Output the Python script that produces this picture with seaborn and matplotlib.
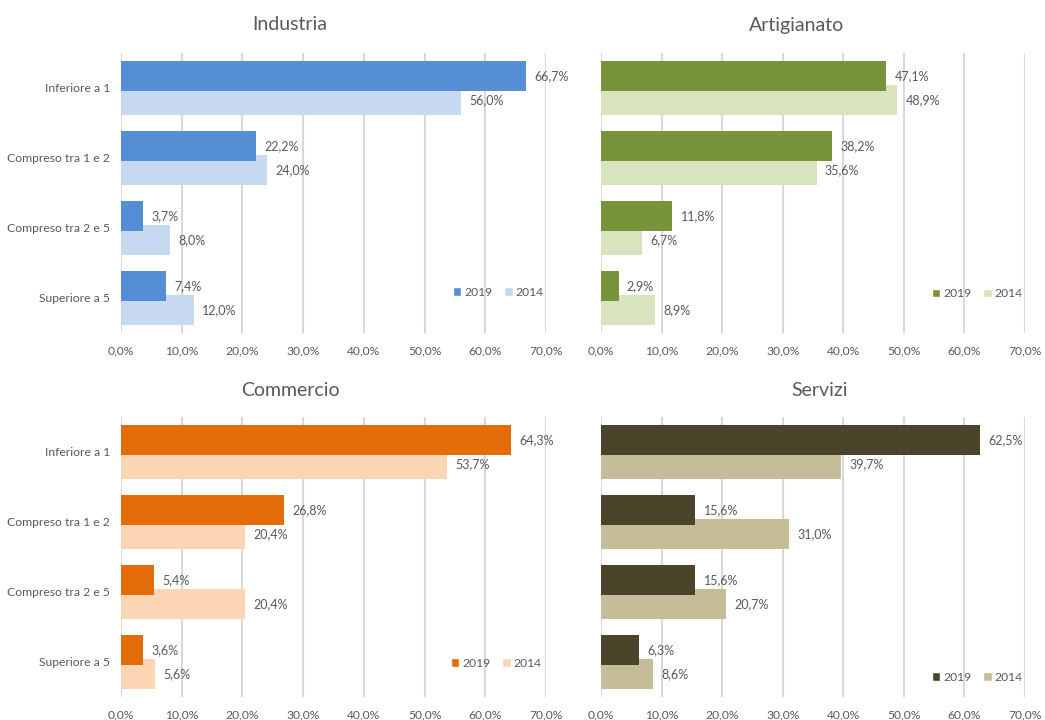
import numpy as np
import pandas as pd
import seaborn as sns
import matplotlib.pyplot as plt
from matplotlib.ticker import FuncFormatter
from matplotlib.patches import Patch

# Data: share of companies by class, 2019 vs 2014
categories = ["Inferiore a 1", "Compreso tra 1 e 2", "Compreso tra 2 e 5", "Superiore a 5"]
years = ["2019", "2014"]
sectors = ["Industria", "Artigianato", "Commercio", "Servizi"]

industria_2019 = [66.7, 22.2, 3.7, 7.4]
industria_2014 = [56.0, 24.0, 8.0, 12.0]
artigianato_2019 = [47.1, 38.2, 11.8, 2.9]
artigianato_2014 = [48.9, 35.6, 6.7, 8.9]
commercio_2019 = [64.3, 26.8, 5.4, 3.6]
commercio_2014 = [53.7, 20.4, 20.4, 5.6]
servizi_2019 = [62.5, 15.6, 15.6, 6.3]
servizi_2014 = [39.7, 31.0, 20.7, 8.6]

x_ticks = [0, 10, 20, 30, 40, 50, 60, 70]

series = {
    "Industria": (industria_2019, industria_2014),
    "Artigianato": (artigianato_2019, artigianato_2014),
    "Commercio": (commercio_2019, commercio_2014),
    "Servizi": (servizi_2019, servizi_2014),
}
palette = {
    "Industria": ("#558ED5", "#C6D9F1"),
    "Artigianato": ("#77933C", "#D7E4BD"),
    "Commercio": ("#E46C0A", "#FCD5B5"),
    "Servizi": ("#4A452A", "#C4BD97"),
}

TEXT = "#595959"
GRID = "#D9D9D9"

sns.set_theme(style="white")
plt.rcParams["font.family"] = ["Lato", "DejaVu Sans"]
plt.rcParams["text.color"] = TEXT

W, H = 1045, 720
fig = plt.figure(figsize=(W / 100, H / 100), dpi=100)

# panel layout in pixels: (left, top, right, bottom)
boxes = {
    "Industria": (121, 53, 546, 333),
    "Artigianato": (601, 53, 1025, 333),
    "Commercio": (121, 417, 546, 697),
    "Servizi": (601, 417, 1025, 697),
}
titles = {
    "Industria": (290, 25),
    "Artigianato": (797, 25),
    "Commercio": (290, 390),
    "Servizi": (820, 390),
}
show_cats = {"Industria": True, "Artigianato": False, "Commercio": True, "Servizi": False}
legend_anchor = {
    "Industria": (0.995, 0.146),
    "Artigianato": (0.995, 0.14),
    "Commercio": (0.99, 0.121),
    "Servizi": (0.995, 0.07),
}

fmt = lambda v: f"{v:.1f}%".replace(".", ",")
pos = np.arange(len(categories))
bar_h = 0.43
shift = 0.17

for name in sectors:
    l, t, r, b = boxes[name]
    ax = fig.add_axes([l / W, 1 - b / H, (r - l) / W, (b - t) / H])
    v19, v14 = series[name]
    c19, c14 = palette[name]

    df14 = pd.DataFrame({"val": v14, "pos": pos + shift})
    df19 = pd.DataFrame({"val": v19, "pos": pos - shift})
    sns.barplot(data=df14, x="val", y="pos", orient="y", native_scale=True,
                width=bar_h, color=c14, saturation=1, errorbar=None, ax=ax,
                linewidth=0)
    sns.barplot(data=df19, x="val", y="pos", orient="y", native_scale=True,
                width=bar_h, color=c19, saturation=1, errorbar=None, ax=ax,
                linewidth=0)

    for cont, vals in zip(ax.containers, (v14, v19)):
        ax.bar_label(cont, labels=[fmt(v) for v in vals], padding=6,
                     fontsize=9, color=TEXT)

    ax.set_xlim(0, 70)
    ax.set_ylim(len(categories) - 0.5, -0.5)
    ax.set_xticks(x_ticks)
    ax.xaxis.set_major_formatter(FuncFormatter(lambda v, p: fmt(v)))
    ax.set_yticks(pos)
    ax.set_yticklabels(categories if show_cats[name] else [])
    ax.set_xlabel("")
    ax.set_ylabel("")
    ax.tick_params(axis="both", length=0, labelsize=8.7, labelcolor=TEXT)
    ax.tick_params(axis="y", pad=8)
    ax.tick_params(axis="x", pad=9)
    for s in ax.spines.values():
        s.set_visible(False)
    ax.set_axisbelow(True)
    ax.grid(axis="x", color=GRID, linewidth=1.5)
    ax.grid(axis="y", visible=False)

    handles = [Patch(facecolor=c19, label=years[0]), Patch(facecolor=c14, label=years[1])]
    ax.legend(handles=handles, ncol=2, loc="center right",
              bbox_to_anchor=legend_anchor[name], frameon=False,
              borderaxespad=0, borderpad=0,
              fontsize=8.7, handlelength=0.7, handleheight=0.7,
              handletextpad=0.25, columnspacing=1.0, labelcolor=TEXT)

    tx, ty = titles[name]
    fig.text(tx / W, 1 - ty / H, name, ha="center", va="center",
             fontsize=14, color=TEXT)

fig.savefig("out.png", dpi=100)
